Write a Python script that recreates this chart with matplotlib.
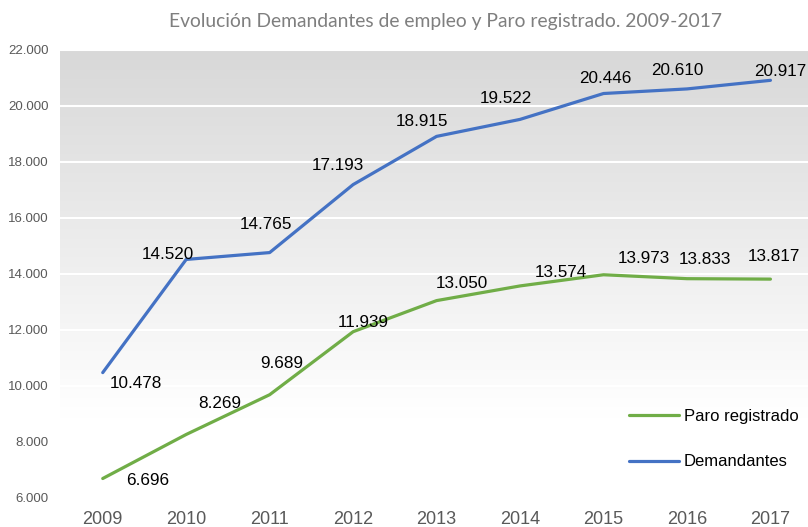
import numpy as np
import matplotlib
matplotlib.use("Agg")
import matplotlib.pyplot as plt
from matplotlib.colors import LinearSegmentedColormap
from matplotlib.ticker import FuncFormatter

years = ["2009", "2010", "2011", "2012", "2013", "2014", "2015", "2016", "2017"]
demandantes = [10478, 14520, 14765, 17193, 18915, 19522, 20446, 20610, 20917]
paro = [6696, 8269, 9689, 11939, 13050, 13574, 13973, 13833, 13817]
title = "Evolución Demandantes de empleo y Paro registrado. 2009-2017"

# label offsets in pixels (layout only)
dem_offsets = [(33, -11), (-18, 5), (-4, 28), (-15, 19), (-15, 15), (-14, 21), (2, 15), (-10, 18), (10, 9)]
paro_offsets = [(45, -2), (34, 31), (12, 31), (10, 9), (25, 17), (41, 13), (40, 16), (18, 19), (3, 23)]

BLUE = "#4472C4"
GREEN = "#70AD47"
GRAY = "#595959"

plt.rcParams["font.family"] = ["Liberation Sans", "DejaVu Sans"]

fig = plt.figure(figsize=(8.08, 5.27), dpi=100)
W, H = 808, 527
ax = fig.add_axes([60 / W, (H - 498) / H, (808 - 60) / W, (498 - 50) / H])

# gradient background
cmap = LinearSegmentedColormap.from_list("bg", [(0.0, "#ffffff"), (0.18, "#ffffff"), (1.0, "#d8d8d8")])
grad = np.linspace(0, 1, 256).reshape(-1, 1)
ax.imshow(grad, extent=[0, 1, 0, 1], transform=ax.transAxes, cmap=cmap,
          aspect="auto", origin="lower", zorder=0)

x = np.arange(len(years))
ax.plot(x, paro, color=GREEN, lw=2.3, label="Paro registrado", zorder=3, solid_capstyle="round")
ax.plot(x, demandantes, color=BLUE, lw=2.3, label="Demandantes", zorder=3, solid_capstyle="round")

fmt = lambda v: f"{int(v):,}".replace(",", ".")

for xi, v, off in zip(x, demandantes, dem_offsets):
    ax.annotate(fmt(v), (xi, v), xytext=off, textcoords="offset pixels",
                ha="center", va="center", fontsize=12.3, color="black", zorder=4)
for xi, v, off in zip(x, paro, paro_offsets):
    ax.annotate(fmt(v), (xi, v), xytext=off, textcoords="offset pixels",
                ha="center", va="center", fontsize=12.3, color="black", zorder=4)

ax.set_xlim(-0.512, 8.45)
ax.set_ylim(6000, 22000)
ax.set_yticks(range(6000, 22001, 2000))
ax.yaxis.set_major_formatter(FuncFormatter(lambda v, p: fmt(v)))
ax.set_xticks(x)
ax.set_xticklabels(years)
ax.tick_params(axis="y", length=0, pad=8, labelsize=9.5, labelcolor=GRAY)
ax.tick_params(axis="x", length=0, pad=9, labelsize=13, labelcolor=GRAY)
ax.grid(axis="y", color="white", lw=1.5, zorder=1)
ax.set_axisbelow(False)
for s in ax.spines.values():
    s.set_visible(False)

leg = ax.legend(loc="upper left", bbox_to_anchor=((622 - 60) / 748, (498 - 402) / 448),
                frameon=False, fontsize=12, handlelength=3.0, handletextpad=0.3,
                labelspacing=1.85, borderaxespad=0)
for t in leg.get_texts():
    t.set_color("black")

fig.text(445 / W, 1 - 22 / H, title, ha="center", va="center", fontsize=13.9,
         color="#7f7f7f", family=["Lato", "DejaVu Sans"])

fig.savefig("out.png", dpi=100)
